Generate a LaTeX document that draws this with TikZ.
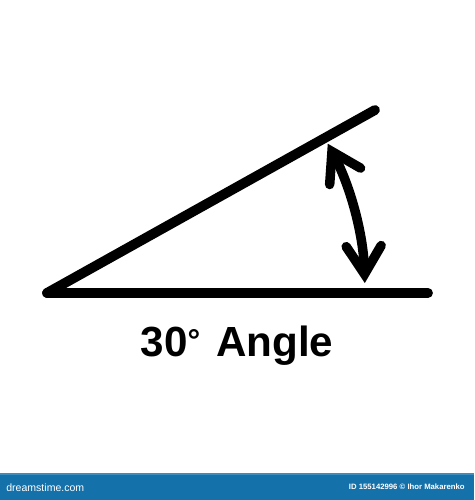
\documentclass[tikz,border=0pt]{standalone}
\usepackage{fontspec}
\setmainfont{Liberation Sans}
\usetikzlibrary{arrows.meta}
\definecolor{bannerblue}{RGB}{21,113,170}
\definecolor{bannerline}{RGB}{60,140,190}
\tikzstyle{side} = [line width=5.6pt, line cap=round]
\tikzstyle{arrow} = [line width=5.4pt, line cap=round, {Straight Barb[length=0.56cm, width=0.7cm, line cap=round]}-{Straight Barb[length=0.56cm, width=0.7cm, line cap=round]}]
\tikzstyle{banner} = [text=white, font=\fontsize{4.4}{5}\selectfont\bfseries, inner sep=0pt]

\begin{document}
\begin{tikzpicture}[x=0.02cm, y=0.02cm]
\useasboundingbox (0,0) rectangle (474,500);
\fill[white] (0,0) rectangle (474,500);

\coordinate (vertex) at (47,207);
\coordinate (baseend) at (428,207);
\coordinate (armend) at (375,390);
\draw [side] (vertex) -- (baseend);
\draw [side] (vertex) -- (armend);

% angle marker
\draw [arrow] ([shift={(1.8:318)}]vertex) arc[start angle=1.8, end angle=28, radius=318];

\node (label) at (237,154) {\fontsize{24}{28}\selectfont\bfseries 30\raisebox{0.25ex}{\fontsize{18}{18}\selectfont\textdegree}\kern0.1em{} Angle};

% banner
\fill[bannerblue] (0,0) rectangle (474,26);
\draw[bannerline, line width=0.8pt] (0,26) -- (474,26);
\node (site) [banner, anchor=west, font=\fontsize{6}{7}\selectfont] at (6,12) {dreamstime.com};
\node (credit) [banner, anchor=east] at (465,13) {ID 155142996 \textcopyright{} Ihor Makarenko};
\end{tikzpicture}
\end{document}
